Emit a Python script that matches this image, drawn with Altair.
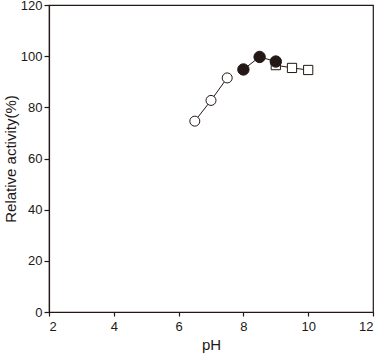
import altair as alt
import pandas as pd

open_x = [6.5, 7.0, 7.5]
open_y = [74.6, 82.7, 91.5]
filled_x = [8.0, 8.5, 9.0]
filled_y = [94.8, 99.7, 97.9]
square_x = [9.0, 9.5, 10.0]
square_y = [96.5, 95.4, 94.6]

df_open = pd.DataFrame({"pH": open_x, "act": open_y})
df_fill = pd.DataFrame({"pH": filled_x, "act": filled_y})
df_sq = pd.DataFrame({"pH": square_x, "act": square_y})

xs = alt.Scale(domain=[2, 12], nice=False, zero=False)
ys = alt.Scale(domain=[0, 120], nice=False)

x_enc = alt.X("pH:Q", scale=xs, axis=alt.Axis(
    title="pH", values=[2, 4, 6, 8, 10, 12], format="d", grid=False,
    tickSize=4, labelPadding=4, titlePadding=4))
y_enc = alt.Y("act:Q", scale=ys, axis=alt.Axis(
    title="Relative activity(%)", values=[0, 20, 40, 60, 80, 100, 120], grid=False,
    tickSize=5, labelPadding=2, titlePadding=2))

def layer(df, shape, fill, size):
    line = alt.Chart(df).mark_line(color="#231815", strokeWidth=1).encode(x=x_enc, y=y_enc)
    pts = alt.Chart(df).mark_point(shape=shape, filled=True, fill=fill, stroke="#231815",
                                   strokeWidth=1, size=size, opacity=1).encode(x=x_enc, y=y_enc)
    return line, pts

l1, p1 = layer(df_open, "circle", "white", 100)
l3, p3 = layer(df_sq, "square", "white", 85)
l2, p2 = layer(df_fill, "circle", "#231815", 130)

chart = alt.layer(l1, l3, l2, p1, p3, p2).properties(
    width=324, height=307,
    padding={"left": 49, "top": 5, "right": 10, "bottom": 42},
    autosize=alt.AutoSizeParams(type="none"),
).configure_view(stroke="#231815", strokeWidth=1.2).configure_axis(
    domainColor="#231815", domainWidth=1.2, tickColor="#231815", tickWidth=1.2,
    labelFont="Liberation Sans", titleFont="Liberation Sans",
    labelFontSize=13, titleFontSize=15, labelColor="#231815", titleColor="#231815",
    titleFontWeight="normal",
)

chart.save("out.html", embed_options={"renderer": "svg", "actions": False})
